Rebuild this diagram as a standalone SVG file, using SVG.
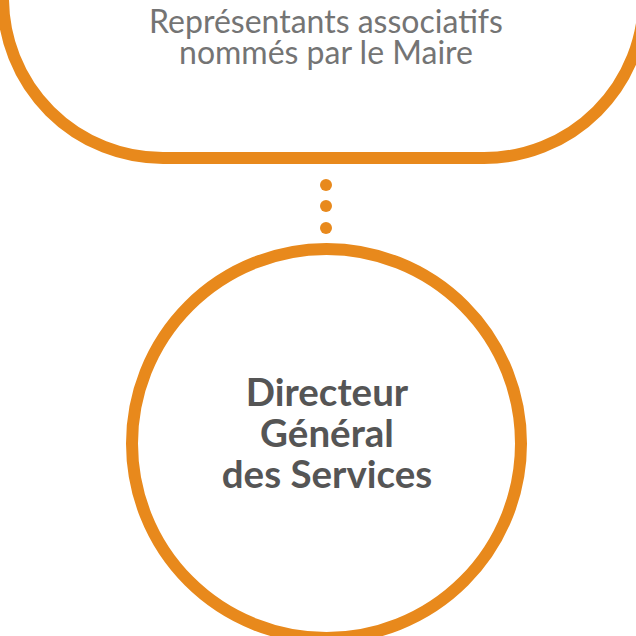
<svg xmlns="http://www.w3.org/2000/svg" width="636" height="636" viewBox="0 0 636 636">
<style>
.o{fill:none;stroke:#E8891C;stroke-width:12}
.dot{fill:#E8891C}
.t1{font-family:Lato,"Open Sans","Liberation Sans",sans-serif;font-size:32px;fill:#747474;text-anchor:middle}
.t2{font-family:Lato,"Open Sans","Liberation Sans",sans-serif;font-size:38.5px;font-weight:bold;fill:#555555;text-anchor:middle}
</style>
<rect width="636" height="636" fill="#ffffff"/>
<g id="node-representants">
<rect class="o" x="3" y="-300" width="641" height="458" rx="160" ry="160"/>
<text class="t1" x="326" y="33">Représentants associatifs</text>
<text class="t1" x="326" y="64">nommés par le Maire</text>
</g>
<g id="connectors">
<circle class="dot" cx="326" cy="185" r="6"/>
<circle class="dot" cx="326" cy="206" r="6"/>
<circle class="dot" cx="326" cy="228" r="6"/>
</g>
<g id="node-dgs">
<circle class="o" cx="326.5" cy="443.5" r="194.5"/>
<text class="t2" x="327" y="406">Directeur</text>
<text class="t2" x="327" y="447">Général</text>
<text class="t2" x="327" y="488">des Services</text>
</g>
</svg>
